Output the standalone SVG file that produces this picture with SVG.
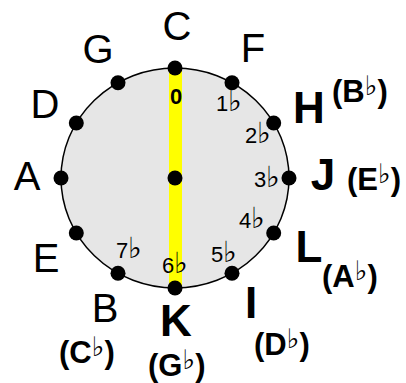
<svg xmlns="http://www.w3.org/2000/svg" width="406" height="383" viewBox="0 0 406 383">
<style>
text{font-family:"Liberation Sans","DejaVu Sans",Arial,sans-serif;fill:#000}
.big{font-size:40px}
.bold{font-size:44px;font-weight:bold}
.par{font-size:31px;font-weight:bold}
.fl{font-family:"DejaVu Sans",sans-serif;font-size:27px;font-weight:bold}
.num{font-size:22px}
.nf{font-family:"DejaVu Sans",sans-serif;font-size:29px}
.dot{fill:#000}
</style>
<rect width="406" height="383" fill="#fff"/>
<g id="dial">
<ellipse cx="175" cy="178" rx="114" ry="110" fill="#e6e6e6" stroke="#000" stroke-width="1.5"/>
<rect x="169" y="68" width="13" height="220" fill="#ffff00"/>
</g>
<g id="connectors"></g>
<g id="dots">
<circle class="dot" cx="175" cy="68" r="7.5"/>
<circle class="dot" cx="232" cy="82.7" r="7.5"/>
<circle class="dot" cx="273.7" cy="123" r="7.5"/>
<circle class="dot" cx="289" cy="178" r="7.5"/>
<circle class="dot" cx="273.7" cy="233" r="7.5"/>
<circle class="dot" cx="232" cy="273.3" r="7.5"/>
<circle class="dot" cx="175" cy="288" r="7.5"/>
<circle class="dot" cx="118" cy="273.3" r="7.5"/>
<circle class="dot" cx="76.3" cy="233" r="7.5"/>
<circle class="dot" cx="61" cy="178" r="7.5"/>
<circle class="dot" cx="76.3" cy="123" r="7.5"/>
<circle class="dot" cx="118" cy="82.7" r="7.5"/>
<circle class="dot" cx="175" cy="178" r="7.5"/>
</g>
<g id="numbers">
<text class="num" x="176" y="104" text-anchor="middle" font-weight="bold" font-size="27">0</text>
<text class="num" x="216" y="111">1<tspan class="nf">♭</tspan></text>
<text class="num" x="245" y="143">2<tspan class="nf">♭</tspan></text>
<text class="num" x="254" y="187">3<tspan class="nf">♭</tspan></text>
<text class="num" x="239" y="228">4<tspan class="nf">♭</tspan></text>
<text class="num" x="211" y="262">5<tspan class="nf">♭</tspan></text>
<text class="num" x="162" y="273">6<tspan class="nf">♭</tspan></text>
<text class="num" x="116" y="258">7<tspan class="nf">♭</tspan></text>
</g>
<g id="labels">
<text class="big" x="177" y="40" text-anchor="middle">C</text>
<text class="big" x="98" y="63" text-anchor="middle">G</text>
<text class="big" x="253" y="62" text-anchor="middle">F</text>
<text class="big" x="45" y="118" text-anchor="middle">D</text>
<text class="big" x="27" y="190" text-anchor="middle">A</text>
<text class="big" x="46" y="272" text-anchor="middle">E</text>
<text class="big" x="105" y="322" text-anchor="middle">B</text>
<text class="bold" x="309" y="123" text-anchor="middle">H</text>
<text class="bold" x="323" y="190" text-anchor="middle">J</text>
<text class="bold" x="309" y="262" text-anchor="middle">L</text>
<text class="bold" x="251" y="318" text-anchor="middle">I</text>
<text class="bold" x="176" y="336" text-anchor="middle">K</text>
<text class="par" x="332" y="102">(B<tspan class="fl" dy="-7">♭</tspan><tspan dy="7">)</tspan></text>
<text class="par" x="347" y="190">(E<tspan class="fl" dy="-7">♭</tspan><tspan dy="7">)</tspan></text>
<text class="par" x="322" y="287">(A<tspan class="fl" dy="-7">♭</tspan><tspan dy="7">)</tspan></text>
<text class="par" x="254" y="355">(D<tspan class="fl" dy="-7">♭</tspan><tspan dy="7">)</tspan></text>
<text class="par" x="148" y="376">(G<tspan class="fl" dy="-7">♭</tspan><tspan dy="7">)</tspan></text>
<text class="par" x="59" y="363">(C<tspan class="fl" dy="-7">♭</tspan><tspan dy="7">)</tspan></text>
</g>
</svg>
